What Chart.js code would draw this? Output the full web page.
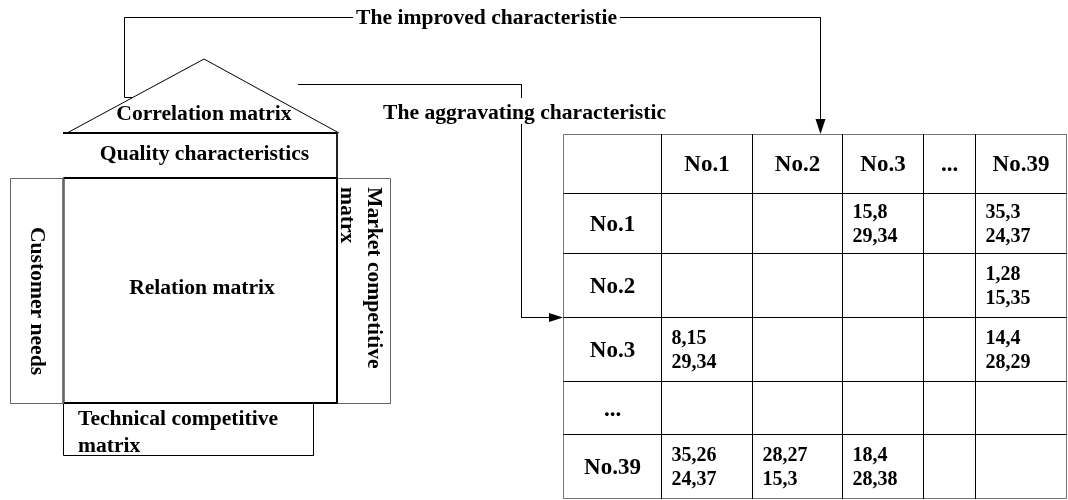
<!DOCTYPE html>
<html>
<head>
<meta charset="utf-8">
<script src="https://cdn.jsdelivr.net/npm/chart.js@4.4.1/dist/chart.umd.min.js"></script>
<style>
  html, body { margin: 0; padding: 0; background: #fff; }
  #wrap { width: 1068px; height: 500px; position: relative; }
</style>
</head>
<body>
<div id="wrap"><canvas id="c"></canvas></div>
<script>
// ---------------- DATA ----------------
const colHeaders = ['', 'No.1', 'No.2', 'No.3', '...', 'No.39'];
const rowHeaders = ['No.1', 'No.2', 'No.3', '...', 'No.39'];
const cellValues = [
  ['', '', '15,8\n29,34', '', '35,3\n24,37'],
  ['', '', '', '', '1,28\n15,35'],
  ['8,15\n29,34', '', '', '', '14,4\n28,29'],
  ['', '', '', '', ''],
  ['35,26\n24,37', '28,27\n15,3', '18,4\n28,38', '', '']
];
const roofLabel = 'Correlation matrix';
const ceilingLabel = 'Quality characteristics';
const centerLabel = 'Relation matrix';
const leftLabel = 'Customer needs';
const rightLabel = ['Market competitive', 'matrx'];
const bottomLabel = ['Technical competitive', 'matrix'];
const improvedLabel = 'The improved characteristie';
const aggravatingLabel = 'The aggravating characteristic';

// ---------------- LAYOUT (positions / styles) ----------------
const W = 1068, H = 500;
const colEdges = [563.5, 661.5, 752.5, 842.5, 923.5, 975.5, 1066.5];
const rowEdges = [134.5, 193.5, 253.5, 317.5, 381.5, 434.5, 498.5];
const SERIF = '"Liberation Serif", "Times New Roman", serif';
const FONT = 'bold 21.6px ' + SERIF;
const FONT_HEAD = 'bold 23px ' + SERIF;
const FONT_CELL = 'bold 20px ' + SERIF;

const datasets = [];
function seg(points, color, width) {
  datasets.push({
    data: points.map(p => ({x: p[0], y: p[1]})),
    showLine: true, borderColor: color || '#000', borderWidth: width || 1,
    pointRadius: 0, fill: false, tension: 0
  });
}
// House of quality
seg([[67, 133], [204, 59], [339, 133]], '#000', 1);                                            // roof
seg([[63.5, 133], [337, 133], [337, 178], [63.5, 178]], '#000', 1);                              // quality box sides
seg([[63, 133], [337, 133]], '#000', 2);                                                         // roof base
seg([[10.5, 178.5], [63.5, 178.5], [63.5, 403.5], [10.5, 403.5], [10.5, 178.5]], '#666', 1);    // customer needs
seg([[337.5, 178.5], [390.5, 178.5], [390.5, 403.5], [337.5, 403.5]], '#666', 1);                // market
seg([[63.5, 403.5], [313.5, 403.5], [313.5, 455.5], [63.5, 455.5], [63.5, 403.5]], '#000', 1);   // technical
seg([[63.5, 178], [337, 178], [337, 403], [63.5, 403], [63.5, 178]], '#000', 2);                 // relation matrix
// improved connector
seg([[133, 97.5], [124.5, 97.5], [124.5, 17.5], [353, 17.5]], '#000', 1);
seg([[620, 17.5], [820.5, 17.5], [820.5, 122]], '#000', 1);
// aggravating connector
seg([[298, 84.5], [521.5, 84.5], [521.5, 98]], '#000', 1);
seg([[521.5, 124], [521.5, 317.5], [552, 317.5]], '#000', 1);
// table grid
for (let i = 1; i < colEdges.length - 1; i++) seg([[colEdges[i], rowEdges[0]], [colEdges[i], rowEdges[rowEdges.length - 1]]], '#000', 1);
for (let j = 1; j < rowEdges.length - 1; j++) seg([[colEdges[0], rowEdges[j]], [colEdges[colEdges.length - 1], rowEdges[j]]], '#000', 1);
seg([[colEdges[0], rowEdges[0]], [colEdges[6], rowEdges[0]], [colEdges[6], rowEdges[6]], [colEdges[0], rowEdges[6]], [colEdges[0], rowEdges[0]]], '#777', 1);

const overlay = {
  id: 'overlay',
  afterDatasetsDraw(chart) {
    const ctx = chart.ctx, sx = chart.scales.x, sy = chart.scales.y;
    const X = v => sx.getPixelForValue(v), Y = v => sy.getPixelForValue(v);
    ctx.save();
    ctx.fillStyle = '#000';
    // arrowheads
    ctx.beginPath();
    ctx.moveTo(X(820.5), Y(134)); ctx.lineTo(X(815.5), Y(119)); ctx.lineTo(X(825.5), Y(119)); ctx.closePath(); ctx.fill();
    ctx.beginPath();
    ctx.moveTo(X(563), Y(317.5)); ctx.lineTo(X(549), Y(313)); ctx.lineTo(X(549), Y(322)); ctx.closePath(); ctx.fill();

    ctx.font = FONT;
    ctx.textBaseline = 'middle';
    ctx.textAlign = 'center';
    ctx.fillText(roofLabel, X(204), Y(114));
    ctx.fillText(ceilingLabel, X(204.5), Y(154));
    ctx.fillText(centerLabel, X(202), Y(288));
    ctx.textAlign = 'left';
    ctx.fillText(bottomLabel[0], X(78), Y(419));
    ctx.fillText(bottomLabel[1], X(78), Y(446));
    ctx.fillText(improvedLabel, X(356), Y(18));
    ctx.fillText(aggravatingLabel, X(383), Y(113));

    // rotated labels (clockwise)
    ctx.save();
    ctx.translate(X(37), Y(301));
    ctx.rotate(Math.PI / 2);
    ctx.textAlign = 'center';
    ctx.fillText(leftLabel, 0, 0);
    ctx.restore();
    ctx.save();
    ctx.translate(X(374), Y(187));
    ctx.rotate(Math.PI / 2);
    ctx.textAlign = 'left';
    ctx.fillText(rightLabel[0], 0, 0);
    ctx.fillText(rightLabel[1], 0, 27);
    ctx.restore();

    // table text
    ctx.font = FONT_HEAD;
    ctx.textAlign = 'center';
    for (let c = 1; c < colHeaders.length; c++) {
      ctx.fillText(colHeaders[c], X((colEdges[c] + colEdges[c + 1]) / 2), Y((rowEdges[0] + rowEdges[1]) / 2 + 1));
    }
    for (let r = 0; r < rowHeaders.length; r++) {
      ctx.fillText(rowHeaders[r], X((colEdges[0] + colEdges[1]) / 2), Y((rowEdges[r + 1] + rowEdges[r + 2]) / 2 + 2));
    }
    ctx.font = FONT_CELL;
    ctx.textAlign = 'left';
    for (let r = 0; r < cellValues.length; r++) {
      for (let c = 0; c < cellValues[r].length; c++) {
        const v = cellValues[r][c];
        if (!v) continue;
        const lines = v.split('\n');
        const cy = (rowEdges[r + 1] + rowEdges[r + 2]) / 2 + 1;
        const x0 = colEdges[c + 1] + 10;
        lines.forEach((ln, k) => ctx.fillText(ln, X(x0), Y(cy - 12 + k * 24)));
      }
    }
    ctx.restore();
  }
};

new Chart(document.getElementById('c'), {
  type: 'scatter',
  data: { datasets },
  options: {
    responsive: true, maintainAspectRatio: false, animation: false,
    layout: { padding: 0 },
    plugins: { legend: { display: false }, tooltip: { enabled: false } },
    scales: {
      x: { type: 'linear', min: 0, max: W, display: false },
      y: { type: 'linear', min: 0, max: H, reverse: true, display: false }
    }
  },
  plugins: [overlay]
});
</script>
</body>
</html>
